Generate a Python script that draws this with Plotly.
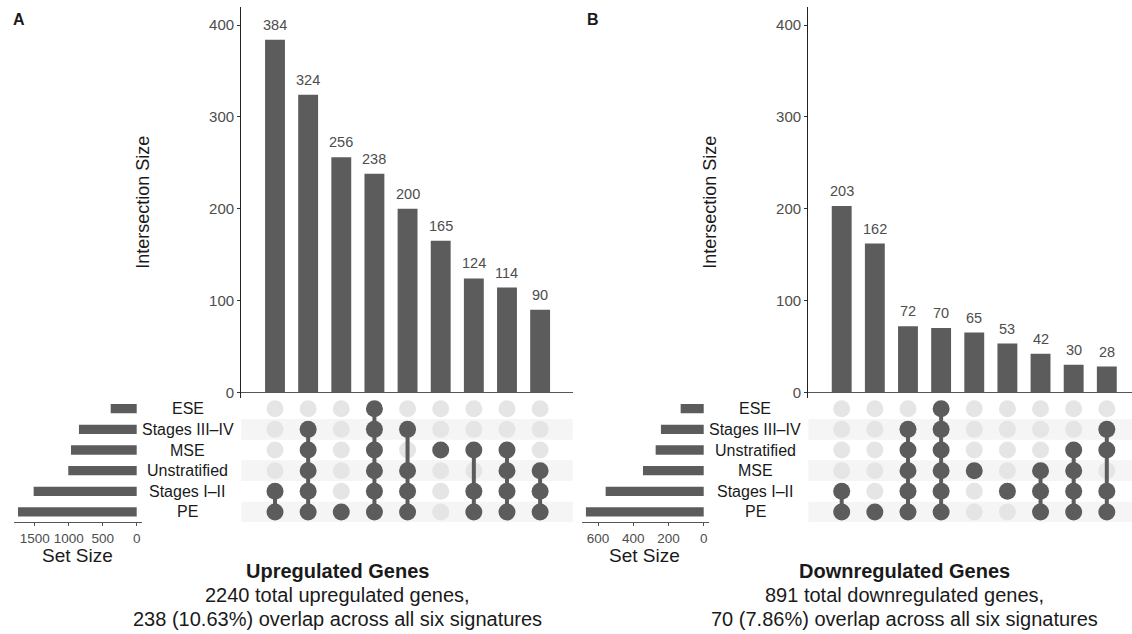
import plotly.graph_objects as go

# ---------------- data ----------------
A_sets = ["ESE", "Stages III–IV", "MSE", "Unstratified", "Stages I–II", "PE"]
A_set_sizes = [382, 849, 966, 1006, 1515, 1745]
A_counts = [384, 324, 256, 238, 200, 165, 124, 114, 90]
A_members = [
    ["Stages I–II", "PE"],
    ["Stages III–IV", "MSE", "Unstratified", "Stages I–II", "PE"],
    ["PE"],
    ["ESE", "Stages III–IV", "MSE", "Unstratified", "Stages I–II", "PE"],
    ["Stages III–IV", "Unstratified", "Stages I–II", "PE"],
    ["MSE"],
    ["MSE", "Stages I–II", "PE"],
    ["MSE", "Unstratified", "Stages I–II", "PE"],
    ["Unstratified", "Stages I–II", "PE"],
]
A_caption = ["<b>Upregulated Genes</b>", "2240 total upregulated genes,",
             "238 (10.63%) overlap across all six signatures"]

B_sets = ["ESE", "Stages III–IV", "Unstratified", "MSE", "Stages I–II", "PE"]
B_set_sizes = [131, 243, 273, 345, 557, 669]
B_counts = [203, 162, 72, 70, 65, 53, 42, 30, 28]
B_members = [
    ["Stages I–II", "PE"],
    ["PE"],
    ["Stages III–IV", "Unstratified", "MSE", "Stages I–II", "PE"],
    ["ESE", "Stages III–IV", "Unstratified", "MSE", "Stages I–II", "PE"],
    ["MSE"],
    ["Stages I–II"],
    ["MSE", "Stages I–II", "PE"],
    ["Unstratified", "MSE", "Stages I–II", "PE"],
    ["Stages III–IV", "Unstratified", "Stages I–II", "PE"],
]
B_caption = ["<b>Downregulated Genes</b>", "891 total downregulated genes,",
             "70 (7.86%) overlap across all six signatures"]

Y_TICKS = [0, 100, 200, 300, 400]
A_SET_TICKS = [0, 500, 1000, 1500]
B_SET_TICKS = [0, 200, 400, 600]

# ---------------- style / layout ----------------
W, H = 1132, 634
DARK = "#5c5c5c"
LIGHT = "#e5e5e6"
BAND = "#f5f5f5"
GREY_TXT = "#4d4d4d"
FONT = "Liberation Sans, Arial, Helvetica, sans-serif"


def px(x):
    return x / W


def py(y):
    return 1 - y / H


fig = go.Figure()
annotations = []
shapes = []

panels = [
    dict(sets=A_sets, sizes=A_set_sizes, counts=A_counts, members=A_members,
         caption=A_caption, set_ticks=A_SET_TICKS, off=0.0,
         xdom=(241.3, 572.7), xr=(-1.017, 8.983),
         sdom=(14, 142), sr=(1804, -78), ax=("x", "y", "x2", "y2", "x3"),
         label="A", label_x=19),
    dict(sets=B_sets, sizes=B_set_sizes, counts=B_counts, members=B_members,
         caption=B_caption, set_ticks=B_SET_TICKS, off=567.0,
         xdom=(808.3, 1132), xr=(-1.008, 8.76),
         sdom=(581.7, 709), sr=(693, -30), ax=("x4", "y4", "x5", "y5", "x6"),
         label="B", label_x=593),
]

layout_axes = {}


def txt(x, y, text, size, color="#1a1a1a", **kw):
    d = dict(x=px(x), y=py(y), xref="paper", yref="paper", text=text,
             showarrow=False, xanchor="center", yanchor="middle",
             font=dict(size=size, color=color, family=FONT))
    d.update(kw)
    return d


for p in panels:
    xb, yb, xm, ym, xs = p["ax"]
    n = len(p["counts"])
    cols = list(range(n))
    rows = list(range(len(p["sets"])))
    idx = {s: i for i, s in enumerate(p["sets"])}

    # intersection bars
    fig.add_trace(go.Bar(x=cols, y=p["counts"], width=0.6, marker_color=DARK,
                         marker_line_width=0, xaxis=xb, yaxis=yb,
                         hoverinfo="skip", showlegend=False))
    for c, v in zip(cols, p["counts"]):
        annotations.append(dict(x=c, y=v, xref=xb, yref=yb, text=str(v),
                                showarrow=False, xanchor="center",
                                yanchor="middle", yshift=15,
                                font=dict(size=14.5, color=GREY_TXT, family=FONT)))

    # matrix: bands
    for r in rows:
        if r % 2 == 1:
            shapes.append(dict(type="rect", xref=f"{xm} domain", yref=ym,
                               x0=0, x1=1, y0=r - 0.5, y1=r + 0.5,
                               fillcolor=BAND, line_width=0, layer="below"))

    # matrix dots and connectors
    ix, iy, axx, ayy, lx, ly = [], [], [], [], [], []
    for c, mem in zip(cols, p["members"]):
        act = sorted(idx[m] for m in mem)
        for r in rows:
            if r in act:
                axx.append(c); ayy.append(r)
            else:
                ix.append(c); iy.append(r)
        if len(act) > 1:
            lx += [c, c, None]
            ly += [act[0], act[-1], None]
    fig.add_trace(go.Scatter(x=ix, y=iy, mode="markers",
                             marker=dict(size=17, color=LIGHT, line_width=0),
                             xaxis=xm, yaxis=ym, hoverinfo="skip", showlegend=False))
    fig.add_trace(go.Scatter(x=lx, y=ly, mode="lines",
                             line=dict(width=4, color=DARK),
                             xaxis=xm, yaxis=ym, hoverinfo="skip", showlegend=False))
    fig.add_trace(go.Scatter(x=axx, y=ayy, mode="markers",
                             marker=dict(size=17, color=DARK, line_width=0),
                             xaxis=xm, yaxis=ym, hoverinfo="skip", showlegend=False))

    # set size bars
    fig.add_trace(go.Bar(x=p["sizes"], y=rows, orientation="h", width=0.45,
                         marker_color=DARK, marker_line_width=0,
                         xaxis=xs, yaxis=ym, hoverinfo="skip", showlegend=False))

    # row labels
    for r, s in zip(rows, p["sets"]):
        annotations.append(dict(x=px(188 + p["off"]), y=r, xref="paper", yref=ym,
                                text=s, showarrow=False, xanchor="center",
                                yanchor="middle",
                                font=dict(size=16, color="#1a1a1a", family=FONT)))

    # titles
    annotations.append(txt(143.5 + p["off"], 203, "Intersection Size", 18, textangle=-90))
    annotations.append(txt(77 + p["off"], 557.5, "Set Size", 19))
    for t, yy in zip(p["caption"], [573, 597, 621]):
        annotations.append(txt(337 + p["off"], yy, t, 20))
    annotations.append(txt(p["label_x"], 20, f"<b>{p['label']}</b>", 16))

    xdom = [px(p["xdom"][0]), px(p["xdom"][1])]

    def k(a):
        return "xaxis" + a[1:]

    def ky(a):
        return "yaxis" + a[1:]

    layout_axes[k(xb)] = dict(domain=xdom, range=list(p["xr"]), visible=False,
                              anchor=yb)
    layout_axes[ky(yb)] = dict(domain=[py(399.5), py(6.7)], range=[-6.5, 420],
                               anchor=xb, showline=True, linecolor="#222", linewidth=1.2,
                               ticks="outside", ticklen=3, tickcolor="#333",
                               tickvals=Y_TICKS, showgrid=False,
                               zeroline=True, zerolinecolor="#555", zerolinewidth=1.5,
                               tickfont=dict(size=15, color=GREY_TXT, family=FONT))
    layout_axes[k(xm)] = dict(domain=xdom, range=list(p["xr"]), visible=False,
                              anchor=ym)
    layout_axes[ky(ym)] = dict(domain=[py(523.95), py(399.65)], range=[5.5, -0.5],
                               visible=False, anchor=xm)
    layout_axes[k(xs)] = dict(domain=[px(p["sdom"][0]), px(p["sdom"][1])],
                              range=list(p["sr"]), anchor=ym, showline=True,
                              linecolor="#555", linewidth=1.2, ticks="outside",
                              ticklen=3, tickcolor="#555", tickvals=p["set_ticks"],
                              tickangle=0, showgrid=False, zeroline=False,
                              tickfont=dict(size=13.5, color=GREY_TXT, family=FONT))

fig.update_layout(width=W, height=H, margin=dict(l=0, r=0, t=0, b=0),
                  paper_bgcolor="white", plot_bgcolor="white",
                  annotations=annotations, shapes=shapes, showlegend=False,
                  hovermode=False,
                  font=dict(family=FONT), **layout_axes)

fig.write_html("out.html",
               config={"displayModeBar": False, "staticPlot": True},
               post_script="document.body.style.margin='0';"
                           "document.body.style.overflow='hidden';")
